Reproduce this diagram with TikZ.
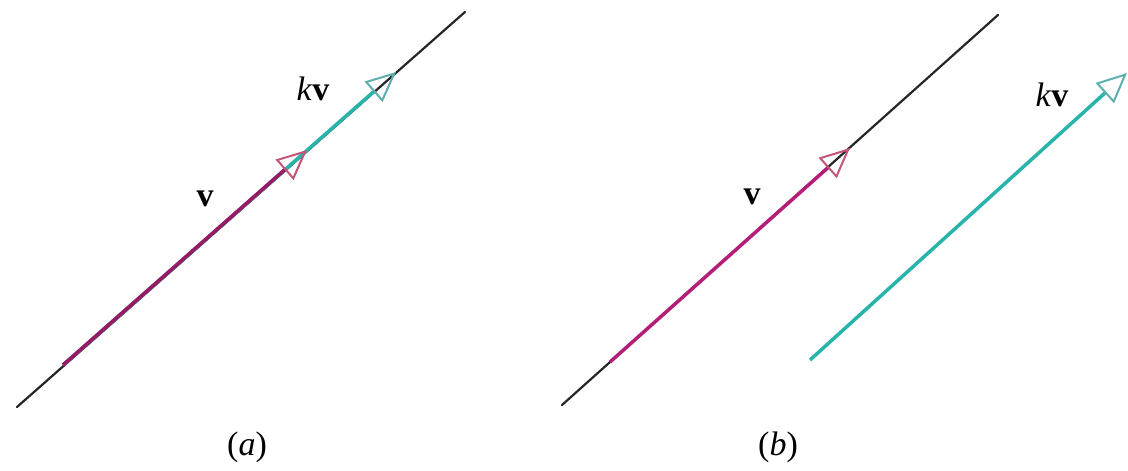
\documentclass[tikz,border=0pt]{standalone}
\usepackage{fontspec}
\setmainfont{Liberation Serif}
\usetikzlibrary{arrows.meta}

\definecolor{vcol}{RGB}{180,30,120}
\definecolor{kvcol}{RGB}{40,180,170}
\definecolor{vtipcol}{RGB}{195,85,120}
\definecolor{kvtipcol}{RGB}{95,175,175}

\begin{document}
\begin{tikzpicture}[
  x=1pt, y=-1pt,
  axis/.style={draw=black!85, line width=2.2pt, line cap=round},
  vec/.style={line width=3.5pt},
  vtip/.style={-{Triangle[open, length=30pt, width=27pt, line width=2pt, color=vtipcol]}},
  kvtip/.style={-{Triangle[open, length=30pt, width=27pt, line width=2pt, color=kvtipcol]}},
  lbl/.style={font=\fontsize{34}{40}\selectfont, inner sep=0pt}
]
\useasboundingbox (0,0) rectangle (1128,471);

% (a): kv along v, from the same tail
\coordinate (aLow) at (17,407);
\coordinate (aHigh) at (465,12);
\coordinate (aO) at (63,365);
\coordinate (aV) at (307,150);
\coordinate (aKv) at (396,72);
\draw[axis] (aLow) -- (aHigh);
\draw[vec, kvtip, draw=kvcol] (aO) -- (aKv);
\draw[vec, vtip, draw=vcol!85!black] (aO) -- (aV);
\node[lbl] (aVlbl) at (205,199) {\textbf{v}};
\node[lbl] (aKvlbl) at (313,89) {\textit{k}\textbf{v}};
\node[lbl] (aCap) at (247,447) {(\textit{a})};

% (b): kv moved off the line
\coordinate (bLow) at (562,405);
\coordinate (bHigh) at (998,15);
\coordinate (bO) at (610,362);
\coordinate (bV) at (850,148);
\coordinate (bS) at (810,360);
\coordinate (bKv) at (1127,73);
\draw[axis] (bLow) -- (bHigh);
\draw[vec, vtip, draw=vcol] (bO) -- (bV);
\draw[vec, kvtip, draw=kvcol] (bS) -- (bKv);
\node[lbl] (bVlbl) at (752,197) {\textbf{v}};
\node[lbl] (bKvlbl) at (1052,95) {\textit{k}\textbf{v}};
\node[lbl] (bCap) at (778,447) {(\textit{b})};
\end{tikzpicture}
\end{document}
